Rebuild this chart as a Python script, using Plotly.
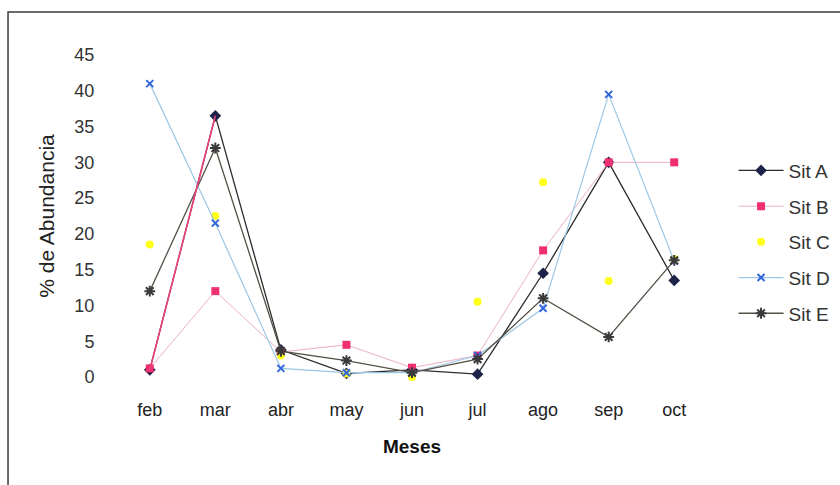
import plotly.graph_objects as go

# Monthly abundance (%) per sampling site
months = ["feb", "mar", "abr", "may", "jun", "jul", "ago", "sep", "oct"]
sit_a = [1.0, 36.5, 3.8, 0.5, 1.0, 0.4, 14.5, 30.0, 13.5]
sit_b = [1.2, 12.0, 3.5, 4.5, 1.3, 3.0, 17.7, 30.0, 30.0]
sit_c = [18.5, 22.5, 3.0, 0.5, 0.0, 10.5, 27.2, 13.4, 16.5]
sit_d = [41.0, 21.5, 1.2, 0.6, 0.6, 3.0, 9.6, 39.5, 16.2]
sit_e = [12.0, 32.0, 3.6, 2.3, 0.6, 2.5, 11.0, 5.6, 16.3]
y_ticks = [0, 5, 10, 15, 20, 25, 30, 35, 40, 45]

FONT = "Liberation Sans, Arial, sans-serif"

fig = go.Figure()

series = [
    ("Sit A", sit_a, "lines+markers", dict(color="#2b2b2b", width=1.3),
     dict(symbol="diamond", size=9, color="#1e2448")),
    ("Sit B", sit_b, "lines+markers", dict(color="#eab0c5", width=1),
     dict(symbol="square", size=8, color="#ee2f72")),
    ("Sit C", sit_c, "markers", dict(color="#ffff1a", width=1),
     dict(symbol="circle", size=8, color="#ffff1a")),
    ("Sit D", sit_d, "lines+markers", dict(color="#9cc7e4", width=1.2),
     dict(symbol="x-thin-open", size=7, color="#3366dd",
          line=dict(color="#3366dd", width=2))),
    ("Sit E", sit_e, "lines+markers", dict(color="#555046", width=1.3),
     dict(symbol="asterisk-open", size=9, color="#3a3a3a",
          line=dict(color="#3a3a3a", width=2))),
]

for name, vals, mode, line, marker in series:
    fig.add_trace(go.Scatter(
        x=months, y=vals, name=name, mode=mode,
        line=line, marker=marker, cliponaxis=False, legendgroup=name,
    ))

# the feb-mar stretch of Sit A is rendered in pink
fig.add_trace(go.Scatter(
    x=months[:2], y=sit_a[:2], mode="lines",
    line=dict(color="#f0407a", width=1.6), showlegend=False,
    cliponaxis=False, hoverinfo="skip",
))

# outer chart frame (top and left edges visible)
fig.add_shape(type="rect", xref="paper", yref="paper",
              x0=-0.1847, x1=1.25, y0=-0.40, y1=1.1335,
              line=dict(color="#3c3c3c", width=1.5), layer="below")

fig.update_layout(
    width=840, height=485,
    margin=dict(l=117, r=133, t=55, b=108, autoexpand=False),
    paper_bgcolor="white", plot_bgcolor="white",
    font=dict(family=FONT, color="#222222"),
    showlegend=True,
    legend=dict(x=1.045, y=0.70, xanchor="left", yanchor="top",
                font=dict(family=FONT, size=19, color="#333333"),
                tracegroupgap=8, itemwidth=45, bgcolor="rgba(0,0,0,0)"),
    xaxis=dict(
        type="category", range=[-0.5, 8.5],
        showline=False, showgrid=False, zeroline=False,
        ticks="outside", ticklen=16, tickcolor="rgba(0,0,0,0)",
        tickfont=dict(family=FONT, size=18, color="#222222"),
        title=dict(text="<b>Meses</b>", standoff=21,
                   font=dict(family=FONT, size=19, color="#111111")),
    ),
    yaxis=dict(
        range=[0, 45], tickvals=y_ticks,
        showline=False, showgrid=False, zeroline=False,
        ticks="outside", ticklen=18, tickcolor="rgba(0,0,0,0)",
        tickfont=dict(family=FONT, size=18, color="#333333"),
        title=dict(text="% de Abundancia", standoff=14,
                   font=dict(family=FONT, size=21, color="#222222")),
    ),
)

fig.write_html("out.html")
